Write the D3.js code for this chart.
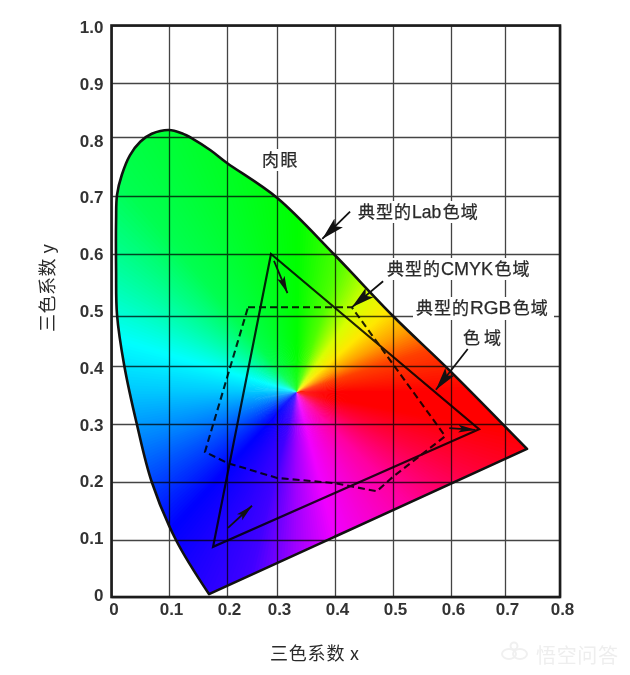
<!DOCTYPE html>
<html><head><meta charset="utf-8">
<script src="https://cdnjs.cloudflare.com/ajax/libs/d3/7.8.5/d3.min.js"></script>
<style>
html,body{margin:0;padding:0;background:#fff;}
svg{display:block;filter:blur(0.45px);}
text{font-family:"Noto Sans CJK SC","Liberation Sans",sans-serif;fill:#2a2a2a;}
.tick text{font-family:"Liberation Sans",Arial,sans-serif;font-weight:700;font-size:17px;fill:#333;}
.lat{font-family:"Liberation Sans",Arial,sans-serif;}
</style></head><body>
<svg id="c" width="630" height="675"></svg>
<script>
// ---- data (CIE x,y values) ----
const xTicks = [0,0.1,0.2,0.3,0.4,0.5,0.6,0.7,0.8];
const yTicks = [0,0.1,0.2,0.3,0.4,0.5,0.6,0.7,0.8,0.9,1.0];
const locusX = [0.169,0.112,0.070,0.044,0.022,0.0096,0.008,0.008,0.0096,0.018,0.032,0.050,0.070,0.100,0.122,0.141,0.171,0.200,0.300,0.400,0.500,0.600,0.740];
const locusY = [0.005,0.100,0.200,0.300,0.402,0.502,0.574,0.659,0.702,0.736,0.769,0.792,0.806,0.813,0.807,0.797,0.778,0.756,0.697,0.598,0.500,0.390,0.257];
const rgbX = [0.288,0.652,0.176];
const rgbY = [0.600,0.291,0.088];
const cmykX = [0.242,0.429,0.590,0.500,0.472,0.400,0.300,0.200,0.162];
const cmykY = [0.514,0.514,0.279,0.209,0.184,0.198,0.207,0.233,0.252];
const whiteX = 0.334, whiteY = 0.355;
const hueAngles = [0,18,30,42,55,72,90,130,148,164,180,198,228,256,270,285,315,335,350,360];
const hueColors = ["#ff0000","#ff4000","#ffa000","#ffe800","#d8ff00","#50ff00","#00ff00","#00ff50","#00ffa8","#00ffff","#00c8ff","#0080ff","#0000ff","#4000ff","#a000ff","#f000ff","#ff00a0","#ff0040","#ff0000","#ff0000"];
const callouts = [
  {x1:0.426,y1:0.673,x2:0.378,y2:0.626,head:"big"},
  {x1:0.483,y1:0.556,x2:0.429,y2:0.514,head:"big"},
  {x1:0.631,y1:0.434,x2:0.574,y2:0.359,head:"big"},
  {x1:0.294,y1:0.589,x2:0.318,y2:0.537,head:"small"},
  {x1:0.597,y1:0.293,x2:0.645,y2:0.290,head:"small"},
  {x1:0.202,y1:0.121,x2:0.250,y2:0.159,head:"small"}
];
const labels = [
  {t:"肉眼",x:262,y:160,w:35,ls:1.5},
  {t:"典型的",lat:"Lab",t2:"色域",x:358,y:212,w:122,ls:1,ls2:1,size:17.5},
  {t:"典型的",lat:"CMYK",t2:"色域",x:387,y:269,w:144,ls:1,ls2:1,size:18},
  {t:"典型的",lat:"RGB",t2:"色域",x:416,y:308,w:135,ls:1,ls2:1,size:19},
  {t:"色域",x:463,y:338,w:38,ls:4}
];
const xTitle = "三色系数 x", yTitle = "三色系数 y", watermark = "悟空问答";

// ---- scales: the reference grid is not evenly spaced ----
const x = d3.scaleLinear().domain(xTicks).range([111.5,169,227,277,335,393,451,505,560]);
const y = d3.scaleLinear().domain(yTicks).range([597,540,482,424,366,316,254,196,137,83,25.5]);
const yLabel = d3.scaleLinear().domain([0,1]).range([595,27]);
const hue = d3.scaleLinear().domain(hueAngles).range(hueColors).interpolate(d3.interpolateRgb);

const svg = d3.select("#c");
const defs = svg.append("defs");

// locus path
const locus = locusX.map((v,i)=>[x(v),y(locusY[i])]);
const locusPath = d3.line().curve(d3.curveCatmullRom.alpha(0.5))(locus)+"Z";
defs.append("clipPath").attr("id","lc").append("path").attr("d",locusPath);

// colour wheel, clipped to the locus
const cx = x(whiteX), cy = y(whiteY);
const arc = d3.arc().innerRadius(0).outerRadius(500);
const wedges = d3.range(0,360,1);
svg.append("g").attr("clip-path","url(#lc)")
  .append("g").attr("transform",`translate(${cx},${cy})`)
  .selectAll("path").data(wedges).join("path")
  .attr("d",a=>{ // math angle a (ccw from east) -> d3 arc angle (cw from north)
    const s=(90-a-1.6)*Math.PI/180, e=(90-a+0.3)*Math.PI/180;
    return arc({startAngle:s,endAngle:e});
  })
  .attr("fill",a=>hue(a+0.5));

// axes + grid
const gridG = svg.append("g").style("mix-blend-mode","multiply");
const xAxis = d3.axisBottom(x).tickValues(xTicks).tickFormat(d=>d===0?"0":d3.format(".1f")(d)).tickSize(-(597-25.5)).tickPadding(6);
const xg = gridG.append("g").attr("transform","translate(0,597)").call(xAxis);
xg.select(".domain").remove();
xg.selectAll("line").attr("stroke","#444").attr("stroke-width",1.3);
xg.selectAll("text").attr("dy","0.71em").attr("y",6).attr("dx",2);

const yAxis = d3.axisLeft(y).tickValues(yTicks).tickFormat("").tickSize(-(560-111.5));
const yg = gridG.append("g").attr("transform","translate(111.5,0)").call(yAxis);
yg.select(".domain").remove();
yg.selectAll("line").attr("stroke","#444").attr("stroke-width",1.3);

const yLab = d3.axisLeft(yLabel).tickValues(yTicks).tickFormat(d=>d===0?"0":d3.format(".1f")(d)).tickSize(0).tickPadding(8);
const yl = svg.append("g").attr("transform","translate(111.5,0)").call(yLab);
yl.select(".domain").remove();

// frame
svg.append("rect").attr("x",x(0)).attr("y",y(1)).attr("width",x(0.8)-x(0)).attr("height",y(0)-y(1))
  .attr("fill","none").attr("stroke","#1c1c1c").attr("stroke-width",2.6);

// locus outline
svg.append("path").attr("d",locusPath).attr("fill","none").attr("stroke","#111").attr("stroke-width",2.6).attr("stroke-linejoin","round");

// gamuts
const marks = svg.append("g").style("mix-blend-mode","multiply");
marks.append("path").attr("d",d3.line()(rgbX.map((v,i)=>[x(v),y(rgbY[i])]))+"Z")
  .attr("fill","none").attr("stroke","#262626").attr("stroke-width",2.2).attr("stroke-linejoin","miter");
marks.append("path").attr("d",d3.line()(cmykX.map((v,i)=>[x(v),y(cmykY[i])]))+"Z")
  .attr("fill","none").attr("stroke","#262626").attr("stroke-width",2.1).attr("stroke-dasharray","7,4");

// label backgrounds + labels
const lab = svg.append("g");
labels.forEach(l=>{
  lab.append("rect").attr("x",l.x-3).attr("y",l.y-11).attr("width",l.w+6).attr("height",l.y===308?23:22).attr("fill","#fff");
});
labels.forEach(l=>{
  const t = lab.append("text").attr("x",l.x).attr("y",l.y).attr("dy","0.36em").attr("font-size",17)
    .attr("stroke","#2a2a2a").attr("stroke-width",0.25);
  t.append("tspan").text(l.t).attr("letter-spacing",l.ls);
  if(l.lat){
    t.append("tspan").text(l.lat).attr("class","lat").attr("font-size",l.size);
    t.append("tspan").text(l.t2).attr("letter-spacing",l.ls2).attr("dx",1.5);
  }
});

// arrows
function head(id,len,w){
  defs.append("marker").attr("id",id).attr("markerUnits","userSpaceOnUse").attr("orient","auto")
    .attr("markerWidth",len+2).attr("markerHeight",w+2).attr("refX",len).attr("refY",w/2)
    .attr("viewBox",`0 0 ${len} ${w}`)
    .append("path").attr("d",d3.line()([[0,0],[len,w/2],[0,w],[len*0.22,w/2]])+"Z").attr("fill","#111");
}
head("big",21,11); head("small",15,7);
svg.append("g").selectAll("line").data(callouts).join("line")
  .attr("x1",d=>x(d.x1)).attr("y1",d=>y(d.y1)).attr("x2",d=>x(d.x2)).attr("y2",d=>y(d.y2))
  .attr("stroke","#111").attr("stroke-width",1.8)
  .attr("marker-end",d=>`url(#${d.head})`);

// axis titles
svg.append("text").text(xTitle).attr("x",270).attr("y",654).attr("dy","0.36em")
  .attr("font-size",18).attr("textLength",89).attr("lengthAdjust","spacing");
svg.append("text").text(yTitle).attr("transform","translate(48,332) rotate(-90)").attr("dy","0.36em")
  .attr("font-size",18).attr("textLength",88).attr("lengthAdjust","spacing");

// watermark
const wm = svg.append("g").attr("stroke","#f0f0f0").attr("fill","none").attr("stroke-width",2);
wm.append("ellipse").attr("cx",509).attr("cy",654).attr("rx",7).attr("ry",5);
wm.append("ellipse").attr("cx",520).attr("cy",654).attr("rx",7).attr("ry",5);
wm.append("circle").attr("cx",514).attr("cy",646).attr("r",3.5);
svg.append("text").text(watermark).attr("x",536).attr("y",656).attr("dy","0.36em")
  .attr("font-size",20).style("fill","#eeeeee").attr("textLength",82).attr("lengthAdjust","spacing");
</script>
</body></html>
